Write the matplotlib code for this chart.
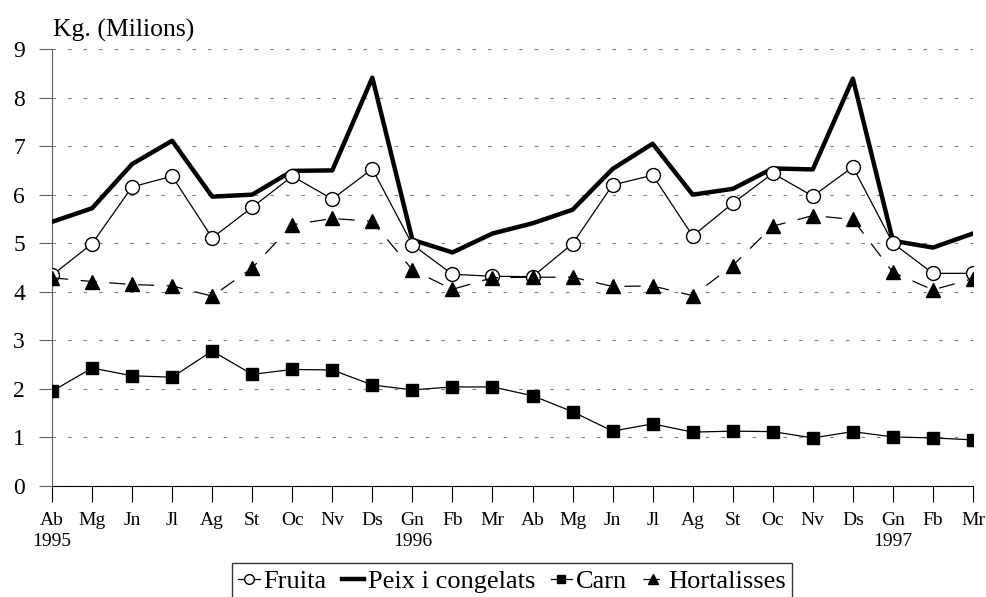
import matplotlib
matplotlib.use("Agg")
import matplotlib.pyplot as plt

MONTHS = ["Ab", "Mg", "Jn", "Jl", "Ag", "St", "Oc", "Nv", "Ds", "Gn", "Fb", "Mr",
          "Ab", "Mg", "Jn", "Jl", "Ag", "St", "Oc", "Nv", "Ds", "Gn", "Fb", "Mr"]
YEARS = {0: "1995", 9: "1996", 21: "1997"}

fruita = [4.34, 4.99, 6.16, 6.38, 5.11, 5.74, 6.38, 5.91, 6.53, 4.97, 4.36, 4.32,
          4.31, 4.99, 6.20, 6.40, 5.15, 5.82, 6.44, 5.97, 6.57, 5.00, 4.38, 4.38]
peix = [5.44, 5.72, 6.63, 7.11, 5.96, 6.00, 6.49, 6.50, 8.41, 5.07, 4.81, 5.20,
        5.41, 5.69, 6.53, 7.05, 6.00, 6.12, 6.54, 6.52, 8.39, 5.05, 4.91, 5.20]
carn = [1.95, 2.43, 2.27, 2.24, 2.78, 2.30, 2.40, 2.39, 2.08, 1.98, 2.04, 2.04,
        1.86, 1.53, 1.13, 1.28, 1.11, 1.13, 1.12, 0.99, 1.12, 1.01, 0.99, 0.95]
hortalisses = [4.29, 4.21, 4.15, 4.12, 3.91, 4.49, 5.38, 5.51, 5.45, 4.45, 4.05, 4.29,
               4.30, 4.30, 4.11, 4.12, 3.92, 4.54, 5.35, 5.57, 5.49, 4.40, 4.04, 4.27]

plt.rcParams["font.family"] = ["Liberation Serif", "DejaVu Serif"]

fig = plt.figure(figsize=(9.87, 5.97), dpi=100)
ax = fig.add_axes([52 / 987, 111 / 597, 921 / 987, 437 / 597])

x = list(range(len(MONTHS)))

ax.plot(x, peix, color="black", lw=3.2, zorder=3, label="Peix i congelats")
ax.plot(x, carn, color="black", lw=0.9, marker="s", ms=9, mfc="black", mec="black",
        zorder=4, label="Carn")
ax.plot(x, fruita, color="black", lw=0.9, marker="o", ms=10, mfc="white", mec="black",
        mew=1.0, zorder=4, label="Fruita")
ax.plot(x, hortalisses, color="black", lw=0.9, dashes=(13, 10), marker="^", ms=10,
        mfc="black", mec="black", zorder=5, label="Hortalisses")

ax.set_xlim(0, len(MONTHS) - 1)
ax.set_ylim(0, 9)
ax.set_yticks(range(0, 10))
ax.yaxis.grid(True, color="#808080", lw=0.8, dashes=(3.2, 10.8))
ax.set_axisbelow(True)

labels = []
for i, m in enumerate(MONTHS):
    labels.append(m + "\n" + YEARS[i] if i in YEARS else m)
ax.set_xticks(x)
ax.set_xticklabels(labels, fontsize=14, linespacing=1.3)

for side in ("top", "right"):
    ax.spines[side].set_visible(False)
ax.spines["left"].set_color("#606060")
ax.spines["bottom"].set_color("black")
ax.tick_params(axis="x", direction="out", length=11.5, width=0.8, pad=7, colors="black")
ax.tick_params(axis="y", direction="out", length=9.5, width=0.8, pad=10,
               color="#606060", labelcolor="black", labelsize=17)

fig.text(53 / 987, 1 - 30 / 597, "Kg. (Milions)", fontsize=18.5, va="center", ha="left")

handles, names = ax.get_legend_handles_labels()
order = [names.index(n) for n in ["Fruita", "Peix i congelats", "Carn", "Hortalisses"]]
leg = fig.legend([handles[i] for i in order], [names[i] for i in order],
                 loc="upper center", bbox_to_anchor=(512 / 987, 1 - 563 / 597),
                 ncol=4, fontsize=19, frameon=True, fancybox=False,
                 edgecolor="black", handlelength=0.8, handletextpad=0.15,
                 columnspacing=0.6, borderpad=0.25, markerscale=0.7, borderaxespad=0)
leg.get_frame().set_linewidth(1.0)

fig.savefig("out.png", dpi=100)
